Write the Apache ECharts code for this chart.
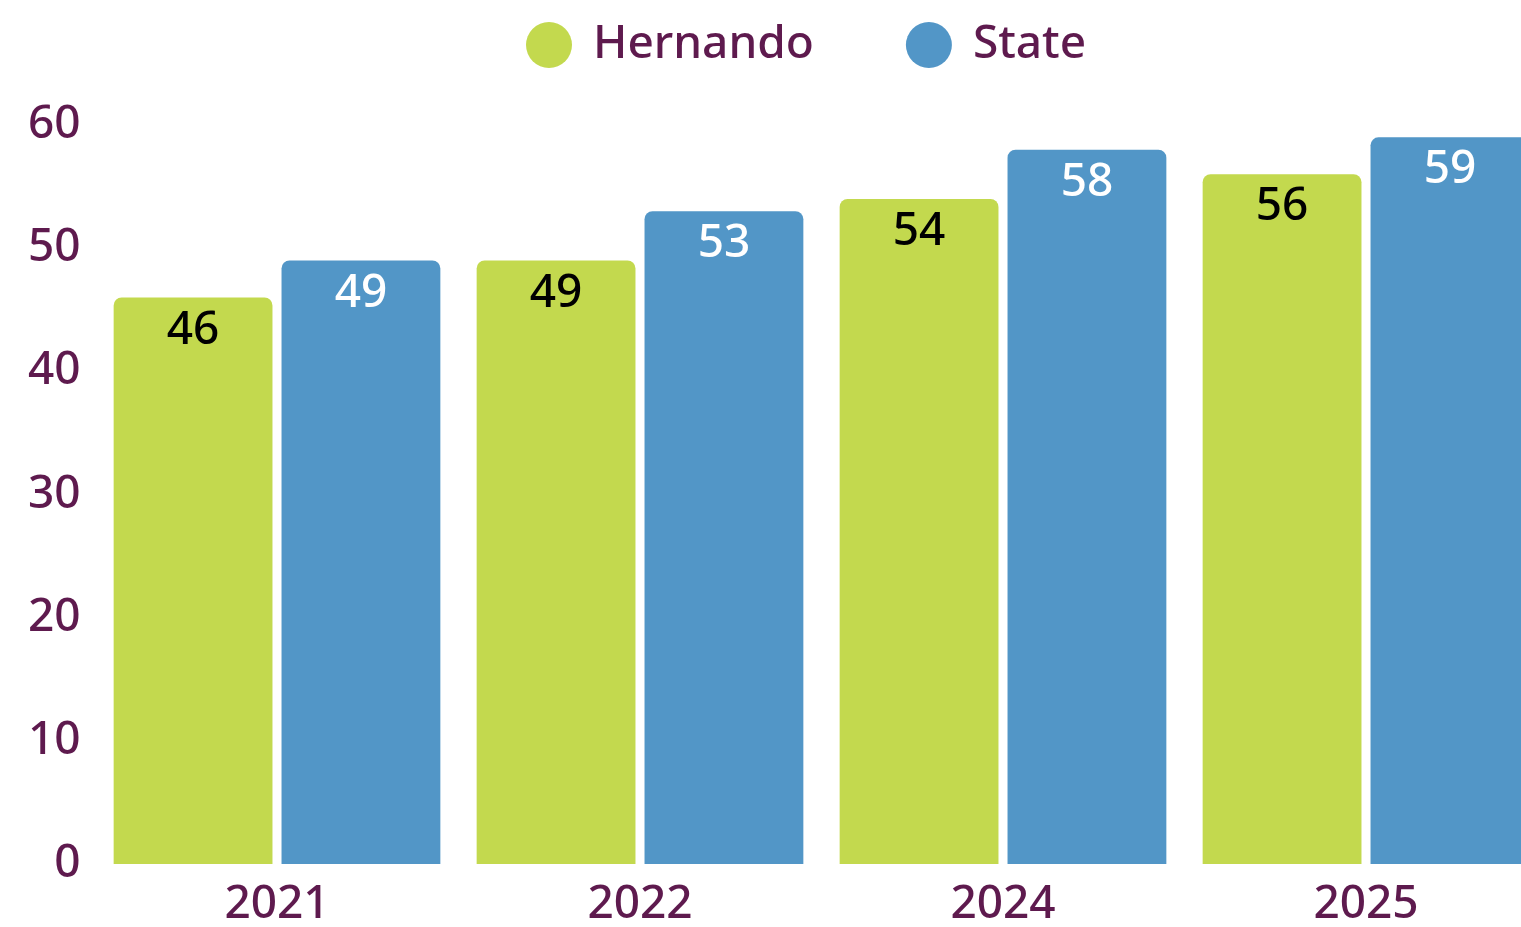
<!DOCTYPE html>
<html>
<head>
<meta charset="utf-8">
<script src="https://cdn.jsdelivr.net/npm/echarts@6/dist/echarts.min.js"></script>
<style>
  html, body { margin: 0; padding: 0; background: #fff; }
  #chart { width: 1521px; height: 927px; }
</style>
</head>
<body>
<div id="chart"></div>
<script>
const years = ['2021', '2022', '2024', '2025'];
const hernando = [46, 49, 54, 56];
const state = [49, 53, 58, 59];
const yTicks = [0, 10, 20, 30, 40, 50, 60];

const purple = '#5E1A4E';
const font = '"Noto Sans", sans-serif';

const chart = echarts.init(document.getElementById('chart'));

var option = {
  animation: false,
  color: ['#C3D94E', '#5296C7'],
  legend: {
    left: 521,
    top: 17,
    icon: 'circle',
    itemWidth: 46,
    itemHeight: 46,
    itemGap: 92,
    textStyle: {
      color: purple,
      fontSize: 46,
      fontFamily: font,
      fontWeight: 500,
      padding: [0, 0, 0, 16]
    }
  },
  // the last bar runs off the right edge, so the grid is wider than the page
  grid: {
    left: 95.5,
    width: 1452,
    top: 125,
    bottom: 63,
    outerBoundsMode: 'none',
    containLabel: false
  },
  xAxis: {
    type: 'category',
    data: years,
    axisLine: { show: false },
    axisTick: { show: false },
    axisLabel: {
      color: purple,
      fontSize: 46,
      fontFamily: font,
      fontWeight: 500,
      margin: 18
    }
  },
  yAxis: {
    type: 'value',
    min: yTicks[0],
    max: yTicks[yTicks.length - 1],
    interval: 10,
    splitLine: { show: false },
    axisLine: { show: false },
    axisTick: { show: false },
    axisLabel: {
      color: purple,
      fontSize: 46,
      fontFamily: font,
      fontWeight: 500,
      margin: 15,
      padding: [5, 0, 0, 0]
    }
  },
  series: [{
    name: 'Hernando',
    type: 'bar',
    data: hernando,
    barGap: '5.7%',
    barCategoryGap: '10%',
    itemStyle: { borderRadius: [8, 8, 0, 0] },
    label: {
      show: true,
      position: 'insideTop',
      distance: 10,
      color: '#000',
      fontSize: 46,
      fontFamily: font,
      fontWeight: 500
    }
  }, {
    name: 'State',
    type: 'bar',
    data: state,
    itemStyle: { borderRadius: [8, 8, 0, 0] },
    label: {
      show: true,
      position: 'insideTop',
      distance: 10,
      color: '#fff',
      fontSize: 46,
      fontFamily: font,
      fontWeight: 500
    }
  }]
};

chart.setOption(option);
</script>
</body>
</html>
